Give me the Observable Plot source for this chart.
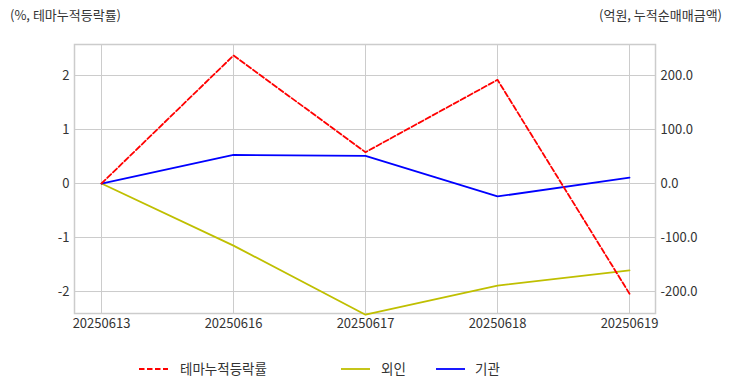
<!DOCTYPE html>
<html>
<head>
<meta charset="utf-8">
<script src="https://cdn.jsdelivr.net/npm/d3@7"></script>
<script src="https://cdn.jsdelivr.net/npm/@observablehq/plot@0.6"></script>
<style>
  html, body { margin: 0; padding: 0; background: #fff; }
  #wrap { position: relative; width: 732px; height: 392px; font-family: "Noto Sans CJK KR", "Noto Sans", sans-serif; color: #333; }
  #chart { position: absolute; left: 0; top: 0; z-index: 0; }
  .ttl { position: absolute; top: 6px; font-size: 13px; line-height: 18px; color: #333; white-space: nowrap; z-index: 2; }
  #legend { position: absolute; top: 358px; left: 0; width: 732px; height: 24px; z-index: 2; }
</style>
</head>
<body>
<div id="wrap">
  <div id="chart"></div>
  <div class="ttl" style="left:10px;">(%, 테마누적등락률)</div>
  <div class="ttl" style="right:10px;">(억원, 누적순매매금액)</div>
  <svg id="legend" width="732" height="24"></svg>
</div>
<script>
const dates = ["20250613", "20250616", "20250617", "20250618", "20250619"];
const themeReturn = [0, 2.37, 0.58, 1.92, -2.04];        // % (left axis)
const foreignNet = [0, -115, -243, -189, -161];           // 억원 (right axis)
const instNet = [0, 53, 51, -24, 11];                     // 억원 (right axis)
const leftTicks = [-2, -1, 0, 1, 2];
const rightTicks = [-200, -100, 0, 100, 200];
const seriesNames = ["테마누적등락률", "외인", "기관"];
const seriesColors = ["#ff0000", "#bfbf00", "#0000ff"];

const ratio = 100; // right axis units per left axis unit
const rows = [];
dates.forEach((d, i) => {
  rows.push({date: d, series: seriesNames[0], y: themeReturn[i]});
  rows.push({date: d, series: seriesNames[1], y: foreignNet[i] / ratio});
  rows.push({date: d, series: seriesNames[2], y: instNet[i] / ratio});
});

const chart = Plot.plot({
  width: 732,
  height: 392,
  marginLeft: 74,
  marginRight: 77,
  marginTop: 44,
  marginBottom: 79,
  style: {fontFamily: '"Noto Sans CJK KR", "Noto Sans", sans-serif', fontSize: "13px", color: "#333", background: "transparent"},
  x: {type: "point", domain: dates, padding: 0.2, label: null},
  y: {domain: [-2.407, 2.574], label: null},
  marks: [
    Plot.gridX(dates, {stroke: "#cccccc", strokeOpacity: 1, strokeWidth: 1}),
    Plot.gridY(leftTicks, {stroke: "#cccccc", strokeOpacity: 1, strokeWidth: 1}),
    Plot.frame({stroke: "#cccccc", strokeWidth: 1.5}),
    Plot.axisX(dates, {tickSize: 0, tickPadding: 5, fill: "#333", fontSize: 13, label: null}),
    Plot.axisY(leftTicks, {anchor: "left", tickSize: 0, tickPadding: 5, fill: "#333", fontSize: 13, label: null, tickFormat: d => String(d)}),
    Plot.axisY(rightTicks.map(v => v / ratio), {anchor: "right", tickSize: 0, tickPadding: 5, fill: "#333", fontSize: 13, label: null, tickFormat: d => (d * ratio).toFixed(1)}),
    Plot.line(rows.filter(r => r.series === seriesNames[1]), {x: "date", y: "y", stroke: seriesColors[1], strokeWidth: 1.8}),
    Plot.line(rows.filter(r => r.series === seriesNames[2]), {x: "date", y: "y", stroke: seriesColors[2], strokeWidth: 1.8}),
    Plot.line(rows.filter(r => r.series === seriesNames[0]), {x: "date", y: "y", stroke: seriesColors[0], strokeWidth: 1.8, strokeDasharray: "5.5,2.5"})
  ]
});
document.getElementById("chart").appendChild(chart);

// legend
const leg = d3.select("#legend");
const items = [
  {name: seriesNames[0], color: seriesColors[0], dash: "5.5,2.5", x0: 139, tx: 180},
  {name: seriesNames[1], color: seriesColors[1], dash: null, x0: 341, tx: 381},
  {name: seriesNames[2], color: seriesColors[2], dash: null, x0: 436, tx: 475}
];
items.forEach(it => {
  leg.append("line").attr("x1", it.x0).attr("x2", it.x0 + 29).attr("y1", 11).attr("y2", 11)
    .attr("stroke", it.color).attr("stroke-width", 1.8).attr("stroke-dasharray", it.dash);
  leg.append("text").attr("x", it.tx).attr("y", 16).attr("fill", "#333")
    .style("font-family", '"Noto Sans CJK KR", sans-serif').style("font-size", "13.5px").text(it.name);
});
</script>
</body>
</html>
